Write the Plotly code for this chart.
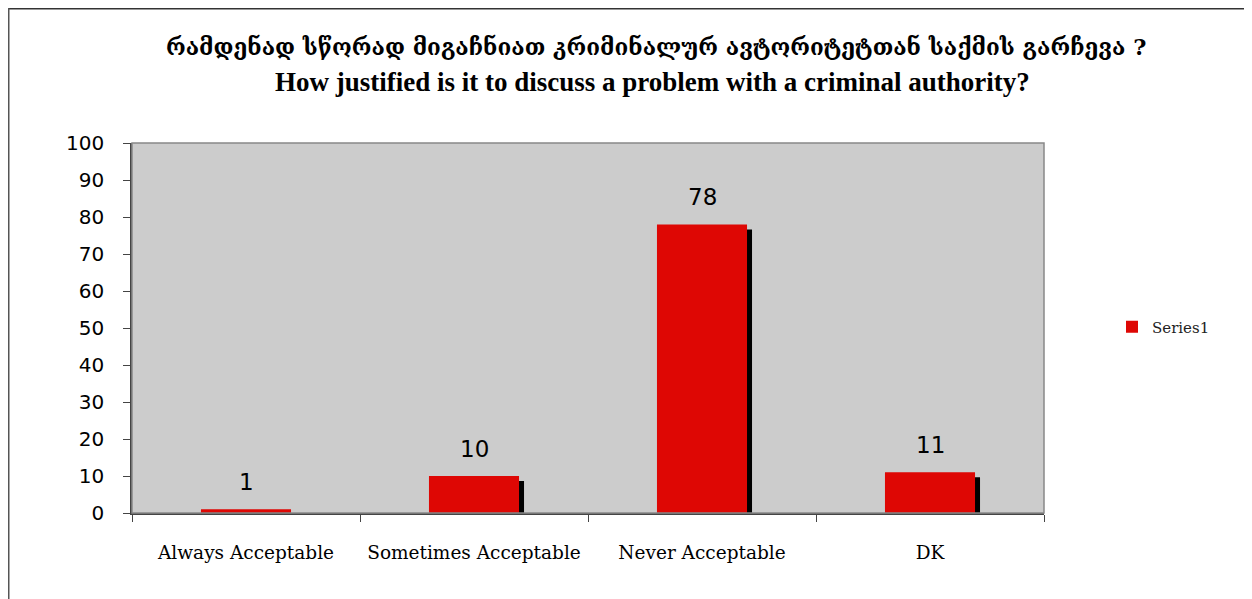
import plotly.graph_objects as go

categories = ["Always Acceptable", "Sometimes Acceptable", "Never Acceptable", "DK"]
values = [1, 10, 78, 11]
y_ticks = [0, 10, 20, 30, 40, 50, 60, 70, 80, 90, 100]
series_name = "Series1"
title_ka = "რამდენად სწორად მიგაჩნიათ კრიმინალურ ავტორიტეტთან საქმის გარჩევა ?"
title_en = "How justified is it to discuss a problem with a criminal authority?"

W, H = 1252, 599
OFF = 8  # page body margin
L, T = 132 - OFF, 143 - OFF
pw, ph = 912, 370
R, B = W - L - pw, H - T - ph

bar_w = 0.395
dx = 5 / pw * len(categories)          # 5px shadow shift, in category units
dy = 5 / ph * 100                       # 5px shadow drop, in data units


def px_x(p):
    return (p - OFF - L) / pw


def px_y(p):
    return 1 - (p - OFF - T) / ph


fig = go.Figure()
# shadow
fig.add_trace(go.Bar(
    x=categories, y=values, base=[-dy] * len(values),
    width=bar_w, offset=-bar_w / 2 + dx,
    marker=dict(color="black", line=dict(width=0)),
    showlegend=False, hoverinfo="skip",
))
fig.add_trace(go.Bar(
    x=categories, y=values, name=series_name,
    width=bar_w, offset=-bar_w / 2,
    marker=dict(color="#DE0704", line=dict(width=0)),
))

for c, v in zip(categories, values):
    fig.add_annotation(x=c, y=v, text=str(v), showarrow=False,
                       yanchor="middle", yshift=27,
                       font=dict(family="DejaVu Sans", size=23, color="black"))

fig.add_annotation(xref="paper", yref="paper", x=px_x(656), y=px_y(47),
                   text="<b>" + title_ka + "</b>", showarrow=False,
                   xanchor="center", yanchor="middle",
                   font=dict(family="DejaVu Serif", size=22.5, color="black"))
fig.add_annotation(xref="paper", yref="paper", x=px_x(652), y=px_y(82),
                   text="<b>" + title_en + "</b>", showarrow=False,
                   xanchor="center", yanchor="middle",
                   font=dict(family="Liberation Serif", size=27, color="black"))

# outer frame (top and left lines)
fig.add_shape(type="line", xref="paper", yref="paper",
              x0=px_x(7), y0=px_y(8.5), x1=px_x(1270), y1=px_y(8.5),
              line=dict(color="#333333", width=2))
fig.add_shape(type="line", xref="paper", yref="paper",
              x0=px_x(8.5), y0=px_y(7), x1=px_x(8.5), y1=px_y(620),
              line=dict(color="#555555", width=2))
# plot-area border (gray)
fig.add_shape(type="rect", xref="paper", yref="paper", x0=0, y0=0, x1=1, y1=1,
              line=dict(color="#888888", width=1.5), layer="above")

fig.update_layout(
    width=W, height=H,
    margin=dict(l=L, r=R, t=T, b=B, autoexpand=False),
    paper_bgcolor="white",
    plot_bgcolor="#CCCCCC",
    barmode="overlay",
    showlegend=True,
    legend=dict(x=px_x(1112), y=px_y(327), xanchor="left", yanchor="middle",
                font=dict(family="DejaVu Serif", size=15, color="#222222"),
                bgcolor="rgba(0,0,0,0)", itemwidth=30),
    xaxis=dict(
        type="category", categoryorder="array", categoryarray=categories,
        range=[-0.5, len(categories) - 0.5],
        showline=True, linecolor="#444444", linewidth=1.5,
        ticks="outside", tickson="boundaries", ticklen=7, tickcolor="#444444",
        showgrid=False, zeroline=False, mirror=False,
        tickangle=0, automargin=False,
        tickfont=dict(family="DejaVu Serif", size=18.5, color="black"),
        ticklabelstandoff=22,
    ),
    yaxis=dict(
        range=[0, 100], tickvals=y_ticks, ticktext=[str(t) for t in y_ticks],
        showline=True, linecolor="#444444", linewidth=1.5,
        ticks="outside", ticklen=7, tickcolor="#444444",
        showgrid=False, zeroline=False, automargin=False,
        tickfont=dict(family="DejaVu Sans", size=20, color="black"),
        ticklabelstandoff=15,
    ),
)

fig.write_html("out.html")
